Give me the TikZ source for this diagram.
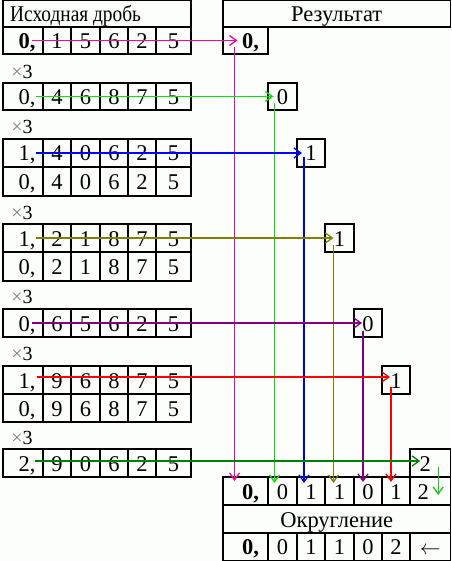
\documentclass[tikz,border=0pt]{standalone}
\usepackage{fontspec}
\setmainfont{Liberation Serif}
\usetikzlibrary{arrows.meta}
\definecolor{bgc}{RGB}{252,254,252}
\definecolor{cmag}{RGB}{255,0,160}
\definecolor{clime}{RGB}{0,230,0}
\definecolor{cblue}{RGB}{0,0,255}
\definecolor{colive}{RGB}{128,128,0}
\definecolor{cpurp}{RGB}{128,0,128}
\definecolor{cred}{RGB}{255,0,0}
\definecolor{cdgreen}{RGB}{0,128,0}
\definecolor{cgreen}{RGB}{20,200,20}
\newcommand\cel[6]{\node[cell, minimum width={(#4-#2)*1pt}, minimum height={(#5-#3)*1pt}] (#1) at ({(#2+#4)/2},{(#3+#5)/2}) {#6};}
\newcommand\lrow[9]{%
\cel{#1-0}{3}{#2}{43}{#3}{\hspace*{8pt}#4}%
\cel{#1-1}{43}{#2}{71}{#3}{#5}%
\cel{#1-2}{71}{#2}{100}{#3}{#6}%
\cel{#1-3}{100}{#2}{128}{#3}{#7}%
\cel{#1-4}{128}{#2}{156}{#3}{#8}%
\cel{#1-5}{156}{#2}{191}{#3}{#9}}
\newcommand\timesthree[2]{\node[tlab] (#1) at (22,#2) {\textcolor{gray}{×}3};}
\begin{document}
\begin{tikzpicture}[x=1pt,y=-1pt,
  celltext/.style={inner sep=0pt, text height=16pt, text depth=0pt,
    font=\fontsize{22.5}{27}\selectfont},
  cell/.style={celltext, draw, line width=1.2pt},
  tlab/.style={inner sep=0pt, font=\fontsize{20}{24}\selectfont, text=black},
  conn/.style={line width=1.3pt, -{Straight Barb[length=7pt,width=10pt]}}]
\fill[bgc] (0,0) rectangle (451,561);
\useasboundingbox (0,0) rectangle (451,561);
% left table
\cel{hdrL}{3}{0.6}{191}{27}{}
\node[celltext, anchor=west] (hdrLt) at (10,13.8) {\scalebox{0.86}[1]{Исходная дробь}};
\lrow{A}{27}{54}{\textbf{0,}}{1}{5}{6}{2}{5}
\timesthree{xB}{72}
\lrow{B}{83}{110}{0,}{4}{6}{8}{7}{5}
\timesthree{xC}{127}
\lrow{C}{139}{167}{1,}{4}{0}{6}{2}{5}
\lrow{Cz}{167}{196}{0,}{4}{0}{6}{2}{5}
\timesthree{xD}{213}
\lrow{D}{224}{252}{1,}{2}{1}{8}{7}{5}
\lrow{Dz}{252}{281}{0,}{2}{1}{8}{7}{5}
\timesthree{xE}{297}
\lrow{E}{309}{337}{0,}{6}{5}{6}{2}{5}
\timesthree{xF}{354}
\lrow{F}{366}{394}{1,}{9}{6}{8}{7}{5}
\lrow{Fz}{394}{422}{0,}{9}{6}{8}{7}{5}
\timesthree{xG}{438}
\lrow{G}{449}{477}{2,}{9}{0}{6}{2}{5}
% result column
\cel{hdrR}{223}{0.6}{450.4}{27}{Результат}
\cel{R0}{223}{27}{268}{54}{\hspace*{10pt}\textbf{0,}}
\cel{R1}{268}{83}{297}{110}{0}
\cel{R2}{297}{139}{325}{167}{1}
\cel{R3}{325}{224}{354}{252}{1}
\cel{R4}{354}{309}{382}{337}{0}
\cel{R5}{382}{366}{410}{394}{1}
\cel{R6}{410}{449}{450.4}{477}{2\hspace*{10pt}}
% bottom table
\cel{b-0}{223}{477}{268}{505}{\hspace*{10pt}\textbf{0,}}
\cel{b-1}{268}{477}{297}{505}{0}
\cel{b-2}{297}{477}{325}{505}{1}
\cel{b-3}{325}{477}{354}{505}{1}
\cel{b-4}{354}{477}{382}{505}{0}
\cel{b-5}{382}{477}{410}{505}{1}
\cel{b-6}{410}{477}{450.4}{505}{2\hspace*{14pt}}
\cel{rnd}{223}{505}{450.4}{533}{Округление}
\cel{c-0}{223}{533}{268}{560.4}{\hspace*{10pt}\textbf{0,}}
\cel{c-1}{268}{533}{297}{560.4}{0}
\cel{c-2}{297}{533}{325}{560.4}{1}
\cel{c-3}{325}{533}{354}{560.4}{1}
\cel{c-4}{354}{533}{382}{560.4}{0}
\cel{c-5}{382}{533}{410}{560.4}{2}
\cel{c-6}{410}{533}{450.4}{560.4}{$\leftarrow$}
% connectors (xshift/yshift are page shifts: positive yshift = up)
\draw[conn,cmag] ([xshift=9pt]A-0.center) -- ([xshift=-8pt]R0.center);
\draw[conn,cmag] ([xshift=-11pt,yshift=-7pt]R0.center) -- ([xshift=-11pt,yshift=10pt]b-0.center);
\draw[conn,clime] ([xshift=13pt]B-0.center) -- ([xshift=-9pt]R1.center);
\draw[conn,clime] ([xshift=-8pt,yshift=-7pt]R1.center) -- ([xshift=-8pt,yshift=8pt]b-1.center);
\draw[conn,cblue] ([xshift=13pt]C-0.center) -- ([xshift=-9pt]R2.center);
\draw[conn,cblue] ([xshift=-7pt,yshift=-4pt]R2.center) -- ([xshift=-7pt,yshift=8pt]b-2.center);
\draw[conn,colive] ([xshift=13pt]D-0.center) -- ([xshift=-6pt]R3.center);
\draw[conn,colive] ([xshift=-6pt,yshift=-7pt]R3.center) -- ([xshift=-6pt,yshift=8pt]b-3.center);
\draw[conn,cpurp] ([xshift=9pt]E-0.center) -- ([xshift=-6pt]R4.center);
\draw[conn,cpurp] ([xshift=-5pt,yshift=-8pt]R4.center) -- ([xshift=-5pt,yshift=9pt]b-4.center);
\draw[conn,cred] ([xshift=14pt,yshift=3pt]F-0.center) -- ([xshift=-6pt,yshift=3pt]R5.center);
\draw[conn,cred] ([xshift=-5pt,yshift=-7pt]R5.center) -- ([xshift=-5pt,yshift=9pt]b-5.center);
\draw[conn,cdgreen] ([xshift=12pt,yshift=2pt]G-0.center) -- ([xshift=-10pt,yshift=2pt]R6.center);
\draw[conn,cgreen] ([xshift=8pt,yshift=-4pt]R6.center) -- ([xshift=8pt,yshift=-4pt]b-6.center);
\end{tikzpicture}
\end{document}
